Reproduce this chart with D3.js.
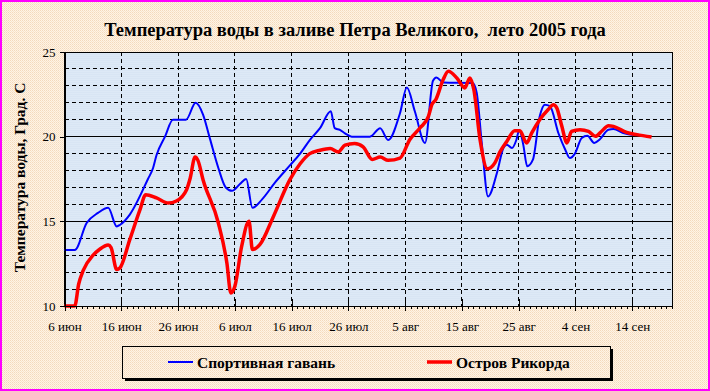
<!DOCTYPE html>
<html>
<head>
<meta charset="utf-8">
<script src="https://cdn.jsdelivr.net/npm/d3@7"></script>
<style>
  body { margin: 0; }
  svg { display: block; }
</style>
</head>
<body>
<div id="chart"></div>
<script>
// days counted from 6 June 2005
const tickDays = [0, 10, 20, 30, 40, 50, 60, 70, 80, 90, 100];
const tickLabels = ["6 июн", "16 июн", "26 июн", "6 июл", "16 июл", "26 июл", "5 авг", "15 авг", "25 авг", "4 сен", "14 сен"];
const tempTicks = [10, 15, 20, 25];
const seriesNames = ["Спортивная гавань", "Остров Рикорда"];

const sportDays = [0, 1.8, 3.9, 5.9, 7.7, 9.2, 9.8, 11.5, 14.7, 15.6, 16.2, 17.7, 19.1, 21.4, 23.1, 24.4, 25.6, 27.1, 28.4, 29.5, 30.9, 32, 33.1, 34.8, 37.1, 39.7, 41.5, 43.2, 45, 46.9, 47.6, 48.5, 49.4, 50.6, 53.8, 55.6, 57, 59.1, 60.3, 61.7, 63.5, 64.9, 65.5, 66.7, 71.9, 72.6, 73.5, 74.6, 76.2, 77.3, 77.9, 78.8, 79.6, 80.1, 80.8, 81.5, 82.5, 83.7, 84.6, 85.5, 87, 88.2, 89, 89.9, 91.1, 92.1, 93.3, 94.3, 95.8, 96.7, 98.4, 99.9, 101.1];
const sportTemps = [13.3, 13.3, 14.9, 15.5, 15.8, 14.7, 14.8, 15.4, 17.5, 18.15, 18.9, 20.0, 21.0, 21.0, 22.0, 21.3, 19.9, 18.15, 17.0, 16.8, 17.2, 17.5, 15.8, 16.3, 17.3, 18.3, 19.0, 19.8, 20.5, 21.5, 20.5, 20.4, 20.2, 20.0, 20.0, 20.5, 19.8, 21.4, 22.9, 21.5, 19.63, 23.3, 23.5, 23.2, 23.17, 22.6, 19.6, 16.47, 17.9, 19.33, 19.53, 19.33, 19.82, 20.4, 19.53, 18.25, 18.64, 21.2, 21.89, 21.8, 20.2, 19.23, 18.74, 19.0, 19.92, 20.05, 19.63, 19.85, 20.41, 20.45, 20.22, 20.12, 20.12];

const rikordDays = [0, 1.8, 2.5, 3.3, 5.05, 6.2, 7.7, 8.2, 9.2, 9.75, 11.5, 13.3, 14.3, 16.2, 18.3, 19.7, 21.5, 22.1, 23, 23.5, 24.4, 27.1, 28.6, 29.3, 30, 31.2, 32.5, 33.1, 34.4, 36.8, 39.7, 41.5, 43.2, 45, 46.8, 48.2, 49.4, 51.1, 52.6, 54.2, 55.6, 57, 59.1, 60.8, 62.6, 64.1, 64.7, 65.4, 66.7, 67.6, 69.1, 70.5, 71.4, 72.1, 73.2, 74.5, 75.8, 76.7, 77.9, 79.3, 80.2, 81.4, 82.3, 83.7, 85.2, 86.1, 86.7, 87.6, 88.5, 89.3, 90.8, 92.3, 93.5, 94.7, 95.8, 96.7, 99, 100.8, 103.4];
const rikordTemps = [10.0, 10.0, 11.3, 12.1, 13.0, 13.35, 13.6, 13.45, 12.15, 12.24, 13.92, 15.69, 16.57, 16.38, 16.08, 16.2, 16.87, 17.5, 18.8, 18.6, 17.46, 14.9, 12.54, 10.77, 11.16, 13.52, 15.0, 13.33, 13.62, 15.29, 17.46, 18.4, 19.0, 19.2, 19.3, 19.1, 19.5, 19.6, 19.4, 18.65, 18.8, 18.6, 18.74, 19.82, 20.51, 21.2, 21.89, 22.19, 23.37, 23.86, 23.47, 22.88, 23.47, 22.77, 19.8, 18.1, 18.45, 19.1, 19.72, 20.35, 20.35, 19.63, 20.22, 21.0, 21.6, 21.89, 21.7, 20.61, 19.63, 20.31, 20.41, 20.31, 20.02, 20.35, 20.65, 20.61, 20.25, 20.12, 19.98];

const W = 710, H = 391;
const margin = {top: 52, right: 38, bottom: 85, left: 64.5};
const width = W - margin.left - margin.right;
const height = H - margin.top - margin.bottom;
const serif = "'Liberation Serif', 'Times New Roman', serif";

const root = d3.select("#chart")
  .append("svg")
  .attr("width", W)
  .attr("height", H);

// dotted backgrounds
const defs = root.append("defs");
const pOuter = defs.append("pattern").attr("id", "bgOuter")
  .attr("width", 2).attr("height", 2).attr("patternUnits", "userSpaceOnUse");
pOuter.append("rect").attr("width", 2).attr("height", 2).attr("fill", "#fff4e4");
pOuter.append("rect").attr("width", 1).attr("height", 1).attr("fill", "#f3d9bd");
pOuter.append("rect").attr("x", 1).attr("y", 1).attr("width", 1).attr("height", 1).attr("fill", "#f8e3cc");

const pPlot = defs.append("pattern").attr("id", "bgPlot")
  .attr("width", 2).attr("height", 2).attr("patternUnits", "userSpaceOnUse");
pPlot.append("rect").attr("width", 2).attr("height", 2).attr("fill", "#e6eff9");
pPlot.append("rect").attr("width", 1).attr("height", 1).attr("fill", "#c9dbef");
pPlot.append("rect").attr("x", 1).attr("y", 1).attr("width", 1).attr("height", 1).attr("fill", "#d3e2f3");

root.append("rect")
  .attr("x", 1).attr("y", 1)
  .attr("width", W - 2).attr("height", H - 2)
  .attr("fill", "url(#bgOuter)")
  .attr("stroke", "#ff00ff")
  .attr("stroke-width", 2);

const svg = root.append("g")
  .attr("transform", `translate(${margin.left}, ${margin.top})`);

const xScale = d3.scaleLinear().domain([0, 107]).range([0, width]);
const yScale = d3.scaleLinear().domain([10, 25]).range([height, 0]);

svg.append("rect")
  .attr("width", width).attr("height", height)
  .attr("fill", "url(#bgPlot)");

// grid
svg.selectAll(".hgrid")
  .data(d3.range(11, 25))
  .enter()
  .append("line")
  .attr("class", "hgrid")
  .attr("x1", 0).attr("x2", width)
  .attr("y1", d => yScale(d)).attr("y2", d => yScale(d))
  .attr("stroke", "#000")
  .attr("stroke-width", 1)
  .attr("stroke-dasharray", d => (d % 5 == 0) ? null : "4,3")
  .attr("shape-rendering", "crispEdges");

svg.selectAll(".vgrid")
  .data(tickDays.slice(1))
  .enter()
  .append("line")
  .attr("class", "vgrid")
  .attr("x1", d => xScale(d)).attr("x2", d => xScale(d))
  .attr("y1", 0).attr("y2", height)
  .attr("stroke", "#000")
  .attr("stroke-dasharray", "4,3")
  .attr("shape-rendering", "crispEdges");

svg.append("rect")
  .attr("width", width).attr("height", height)
  .attr("fill", "none")
  .attr("stroke", "#000")
  .attr("shape-rendering", "crispEdges");

// lines
const line = d3.line()
  .x(d => xScale(d[0]))
  .y(d => yScale(d[1]))
  .curve(d3.curveMonotoneX);

svg.append("path")
  .datum(d3.zip(sportDays, sportTemps))
  .attr("d", line)
  .attr("fill", "none")
  .attr("stroke", "#0000ff")
  .attr("stroke-width", 2);

svg.append("path")
  .datum(d3.zip(rikordDays, rikordTemps))
  .attr("d", line)
  .attr("fill", "none")
  .attr("stroke", "#ff0000")
  .attr("stroke-width", 3.5);

// axes
const xMinor = d3.axisBottom(xScale)
  .tickValues(d3.range(0, 108))
  .tickSize(3)
  .tickFormat("");
svg.append("g")
  .attr("transform", `translate(0, ${height})`)
  .call(xMinor)
  .attr("shape-rendering", "crispEdges")
  .call(g => g.select(".domain").remove());

const xAxis = d3.axisBottom(xScale)
  .tickValues(tickDays)
  .tickFormat((d, i) => tickLabels[i])
  .tickSizeInner(5)
  .tickSizeOuter(0)
  .tickPadding(11);
svg.append("g")
  .attr("class", "x-axis")
  .attr("transform", `translate(0, ${height})`)
  .call(xAxis)
  .attr("shape-rendering", "crispEdges")
  .call(g => g.selectAll(".tick line").attr("y1", -7));

const yAxis = d3.axisLeft(yScale)
  .tickValues(tempTicks)
  .tickSizeInner(5)
  .tickSizeOuter(0)
  .tickPadding(4);
svg.append("g")
  .attr("class", "y-axis")
  .call(yAxis)
  .attr("shape-rendering", "crispEdges");

svg.selectAll(".x-axis text, .y-axis text")
  .attr("font-family", serif)
  .attr("font-size", 13)
  .attr("fill", "#000");
svg.selectAll(".domain, .tick line").attr("stroke", "#000");

// titles
root.append("text")
  .attr("x", 355)
  .attr("y", 35.5)
  .attr("text-anchor", "middle")
  .attr("font-family", serif)
  .attr("font-weight", "bold")
  .attr("font-size", 18.5)
  .style("white-space", "pre")
  .text("Температура воды в заливе Петра Великого,  лето 2005 года");

root.append("text")
  .attr("transform", "translate(25, 177.5) rotate(-90)")
  .attr("text-anchor", "middle")
  .attr("font-family", serif)
  .attr("font-weight", "bold")
  .attr("font-size", 15.5)
  .text("Температура воды, Град. С");

// legend
const legend = root.append("g");
legend.append("rect")
  .attr("x", 125).attr("y", 349)
  .attr("width", 488).attr("height", 32)
  .attr("fill", "#000");
legend.append("rect")
  .attr("x", 122).attr("y", 346)
  .attr("width", 488).attr("height", 32)
  .attr("fill", "url(#bgOuter)")
  .attr("stroke", "#000")
  .attr("shape-rendering", "crispEdges");

const legendItems = [
  {name: seriesNames[0], color: "#0000ff", w: 2, x: 168},
  {name: seriesNames[1], color: "#ff0000", w: 3.5, x: 427}
];
legend.selectAll(".lg-line")
  .data(legendItems)
  .enter()
  .append("line")
  .attr("x1", d => d.x).attr("x2", d => d.x + 25)
  .attr("y1", 362).attr("y2", 362)
  .attr("stroke", d => d.color)
  .attr("stroke-width", d => d.w);
legend.selectAll(".lg-text")
  .data(legendItems)
  .enter()
  .append("text")
  .attr("x", d => d.x + 29)
  .attr("y", 367.5)
  .attr("font-family", serif)
  .attr("font-weight", "bold")
  .attr("font-size", 15.5)
  .text(d => d.name);
</script>
</body>
</html>
